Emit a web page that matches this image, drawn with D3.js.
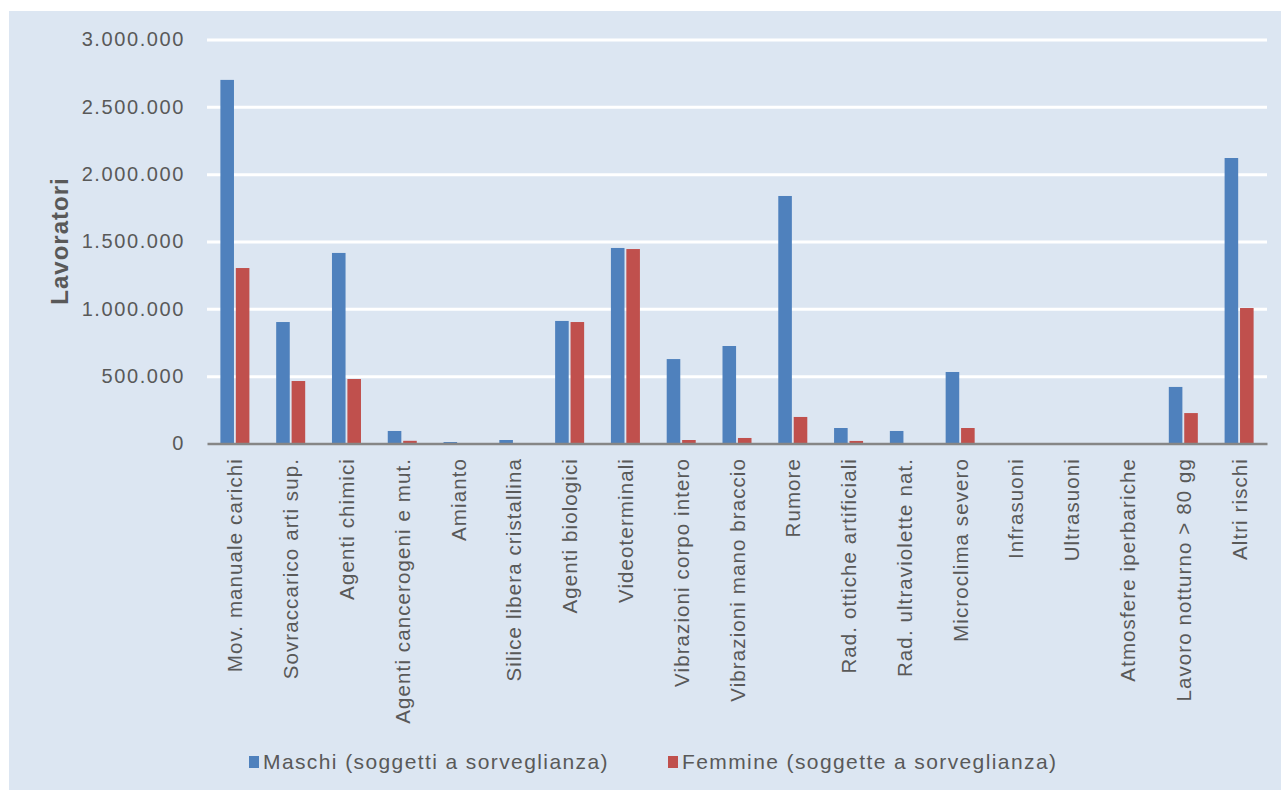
<!DOCTYPE html>
<html>
<head>
<meta charset="utf-8">
<script src="https://cdn.jsdelivr.net/npm/d3@7"></script>
<style>
  html, body { margin: 0; padding: 0; background: #ffffff; }
  svg { display: block; }
  text { font-family: "Liberation Sans", Arial, sans-serif; fill: #595959; }
</style>
</head>
<body>
<svg id="chart" width="1283" height="792"></svg>
<script>
const categories = [
  "Mov. manuale carichi", "Sovraccarico arti sup.", "Agenti chimici",
  "Agenti cancerogeni e mut.", "Amianto", "Silice libera cristallina",
  "Agenti biologici", "Videoterminali", "Vibrazioni corpo intero",
  "Vibrazioni mano braccio", "Rumore", "Rad. ottiche artificiali",
  "Rad. ultraviolette nat.", "Microclima severo", "Infrasuoni",
  "Ultrasuoni", "Atmosfere iperbariche", "Lavoro notturno > 80 gg", "Altri rischi"
];
const seriesNames = ["Maschi (soggetti a sorveglianza)", "Femmine (soggette a sorveglianza)"];
const maschi = [
  2700000, 902000, 1415000, 93000, 11000, 26000, 910000, 1452000, 627000,
  724000, 1838000, 115000, 93000, 531000, 1000, 1500, 2000, 420000, 2120000
];
const femmine = [
  1303000, 464000, 479000, 20000, 1000, 2000, 902000, 1444000, 26000,
  41000, 197000, 19000, 3000, 115000, 500, 500, 300, 226000, 1006000
];
const yTicks = [0, 500000, 1000000, 1500000, 2000000, 2500000, 3000000];
const colors = ["#4f81bd", "#c0504d"];

(function () {
const svg = d3.select("#chart");
const mLeft = 207, mRight = 1267, mTop = 39.5, mBottom = 443.5;

svg.append("rect").attr("x", 9).attr("y", 11).attr("width", 1272).attr("height", 779)
  .attr("fill", "#dce6f2");

const x0 = d3.scaleBand().domain(categories).range([mLeft, mRight]).padding(0);
const x1 = d3.scaleBand().domain(seriesNames)
  .range([x0.bandwidth() * 0.24, x0.bandwidth() * 0.76]).paddingInner(0.12);
const y = d3.scaleLinear().domain([0, 3000000]).range([mBottom, mTop]);

const it = d3.formatLocale({decimal: ",", thousands: ".", grouping: [3], currency: ["€", ""]});
const fmt = it.format(",d");

// gridlines
const grid = svg.append("g").attr("transform", `translate(${mLeft},0)`)
  .call(d3.axisLeft(y).tickValues(yTicks.slice(1)).tickSize(-(mRight - mLeft)).tickFormat(""));
grid.select(".domain").remove();
grid.selectAll("line").attr("stroke", "#ffffff").attr("stroke-width", 3);

// y labels
const ya = svg.append("g").attr("transform", `translate(${mLeft},0)`)
  .call(d3.axisLeft(y).tickValues(yTicks).tickSize(0).tickPadding(22).tickFormat(fmt));
ya.select(".domain").remove();
ya.selectAll("text").attr("font-size", 20).attr("letter-spacing", "1.6px")
  .attr("fill", "#595959").attr("font-family", "Liberation Sans, Arial, sans-serif");

// bars
const data = categories.map((c, i) => ({c, vals: [maschi[i], femmine[i]]}));
const groups = svg.append("g").selectAll("g").data(data).join("g")
  .attr("transform", d => `translate(${x0(d.c)},0)`);
groups.selectAll("rect").data(d => d.vals.map((v, j) => ({s: seriesNames[j], v, j})))
  .join("rect")
  .attr("x", d => x1(d.s)).attr("width", x1.bandwidth())
  .attr("y", d => y(d.v)).attr("height", d => y(0) - y(d.v))
  .attr("fill", d => colors[d.j]);

// x axis
const xa = svg.append("g").attr("transform", `translate(0,${mBottom})`)
  .call(d3.axisBottom(x0).tickSize(0).tickFormat(""));
xa.select(".domain").attr("stroke", "#868686").attr("stroke-width", 2.5);

// category labels
svg.append("g").selectAll("text").data(categories).join("text")
  .attr("transform", d => `translate(${x0(d) + x0.bandwidth() / 2 + 7.5},458) rotate(-90)`)
  .attr("text-anchor", "end")
  .attr("font-size", 20.5).attr("letter-spacing", "1.1px")
  .text(d => d);

// y title
svg.append("text")
  .attr("transform", "translate(68,241) rotate(-90)")
  .attr("text-anchor", "middle").attr("font-size", 24).attr("font-weight", "bold")
  .attr("letter-spacing", "1px")
  .text("Lavoratori");

// legend
const legendX = [249, 668];
const lg = svg.append("g").selectAll("g").data(seriesNames).join("g")
  .attr("transform", (d, i) => `translate(${legendX[i]},0)`);
lg.append("rect").attr("x", 0).attr("y", 756).attr("width", 10).attr("height", 12)
  .attr("fill", (d, i) => colors[i]);
lg.append("text").attr("x", 14).attr("y", 769).attr("font-size", 21)
  .attr("letter-spacing", "1.4px").text(d => d);
})();
</script>
</body>
</html>
